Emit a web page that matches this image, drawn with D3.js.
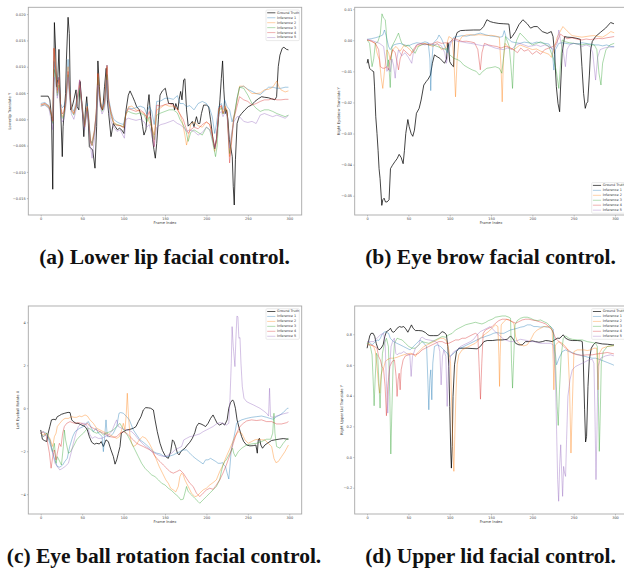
<!DOCTYPE html>
<html>
<head>
<meta charset="utf-8">
<script src="https://cdn.jsdelivr.net/npm/d3@7"></script>
<style>
  body { margin: 0; background: #fff; }
  .tiny { font-family: "DejaVu Sans", sans-serif; }
  .caption { font-family: "Liberation Serif", "DejaVu Serif", serif; font-weight: bold; }
</style>
</head>
<body>
<script>
// ---- data ----
var seriesNames = ["Ground Truth", "Inference 1", "Inference 2", "Inference 3", "Inference 4", "Inference 5"];
var xTicks = [0, 50, 100, 150, 200, 250, 300];

// (a) lower lip: [frame, value]
var gtA = [[0,0.0044],[9,0.0044],[11,0.0037],[13,0.0005],[14.5,-0.0133],[16.5,0.0184],[18,0.0132],[19,0.0062],[20.5,0.0075],[22,0.0133],[23.7,0.0037],[26,-0.0071],[27,-0.0014],[30,0.0049],[31,0.0113],[33,0.0194],[34.5,0.0163],[36,0.0018],[38,0.0024],[40,0.0037],[42.6,0.0056],[44,0.0024],[46,0.0018],[47.5,0.0072],[50,0.0024],[52,-0.0033],[54,0.0018],[55.5,0.0043],[57,0.0011],[58.7,-0.0052],[60.3,-0.0055],[62.7,-0.0058],[65.5,-0.0093],[67.5,-0.0014],[69,0.0111],[70.8,0.0062],[72.4,0.0024],[74.8,0.0018],[77,0.0062],[79,0.0097],[80.4,0.0037],[82,0.0011],[84.8,-0.0033],[87.6,-0.0008],[90,-0.0014],[92.5,-0.0020],[95,-0.0017],[97.7,-0.0020],[100.5,-0.0027],[103,0.0018],[105.7,0.0046],[107.8,0.0054],[111,0.0043],[113.4,0.0034],[115.8,0.0024],[119,0.0018],[121.4,0.0005],[123,-0.0014],[124.6,-0.0030],[127,-0.0020],[129,0.0024],[130.7,0.0047],[132.7,0.0005],[135,-0.0039],[136.7,-0.0058],[138.3,-0.0074],[140,-0.0046],[142,-0.0001],[144,0.0046],[146.8,0.0054],[150.4,0.0059],[152,0.0046],[154.4,0.0030],[160,0.0030],[161.6,0.0018],[163,0.0030],[165.6,0.0018],[167,0.0037],[168.9,0.0053],[170.5,0.0037],[172.5,0.0075],[174,0.0077],[176,0.0018],[178,-0.0013],[181,-0.0008],[183,-0.0004],[185,-0.0014],[188,0.0005],[190,-0.0008],[192,-0.0008],[194,0.0011],[196.6,0.0027],[200,0.0027],[202.7,0.0024],[205,-0.0001],[208,-0.0039],[210,-0.0056],[212,-0.0039],[214.7,0.0005],[216.3,0.0037],[218,0.0078],[219.5,0.0111],[221,0.0056],[222.8,0.0011],[224.4,0.0018],[226,-0.0001],[227.6,-0.0039],[229.2,-0.0052],[231.2,-0.0071],[232.4,-0.0128],[233.6,-0.0163],[235,-0.0077],[237,-0.0008],[239.6,0.0005],[242.5,0.0011],[246.5,0.0018],[250.5,0.0024],[254.5,0.0027],[258.5,0.0034],[262.6,0.0039],[266.6,0.0043],[269.8,0.0042],[274.6,0.0041],[278.6,0.0039],[282.7,0.0037],[284.7,0.0043],[286.7,0.0100],[288.7,0.0122],[291.5,0.0135],[293.5,0.0137],[296.7,0.0133],[299,0.0132]];
var infA1 = [[0,0.0030],[5,0.0032],[10,0.0026],[13,0.0008],[14.5,0.0002],[16,0.0110],[18,0.0085],[20,0.0060],[22,0.0080],[24,0.0030],[26,0.0022],[28,0.0025],[30,0.0035],[33,0.0114],[35,0.0060],[37,0.0024],[40,0.0015],[43,0.0035],[47,0.0060],[50,0.0028],[53,-0.0010],[56,0.0030],[58,0.0005],[60,-0.0040],[62,-0.0045],[64,-0.0030],[67,0.0010],[69,0.0075],[71,0.0040],[74,0.0020],[77,0.0035],[80,0.0103],[82,0.0040],[85,0.0015],[88,0.0000],[92,-0.0005],[96,-0.0008],[100,-0.0010],[103,0.0015],[106,0.0022],[110,0.0020],[115,0.0022],[120,0.0025],[125,0.0022],[128,0.0010],[131,0.0025],[134,0.0015],[137,-0.0010],[140,0.0034],[145,0.0035],[150,0.0040],[155,0.0040],[160,0.0038],[165,0.0045],[168,0.0030],[172,0.0030],[176,0.0024],[180,0.0026],[185,0.0018],[190,0.0030],[195,0.0034],[200,0.0030],[204,0.0020],[207,0.0005],[210,-0.0027],[212,-0.0010],[215,0.0025],[218,0.0030],[220,0.0018],[222,0.0037],[225,0.0024],[228,0.0018],[231,-0.0005],[234,0.0010],[237,0.0040],[240,0.0061],[245,0.0063],[250,0.0057],[255,0.0053],[260,0.0049],[265,0.0047],[270,0.0054],[275,0.0061],[280,0.0061],[285,0.0059],[290,0.0059],[295,0.0061],[299,0.0061]];
var infA2 = [[0,0.0028],[5,0.0030],[10,0.0025],[13,0.0010],[14.5,-0.0005],[16,0.0135],[18,0.0100],[20,0.0050],[22,0.0075],[24,0.0020],[26,0.0005],[28,0.0010],[30,0.0030],[33,0.0100],[35,0.0050],[37,0.0020],[40,0.0012],[43,0.0030],[47,0.0065],[50,0.0025],[53,-0.0014],[56,0.0025],[58,0.0000],[60,-0.0046],[62,-0.0040],[65,-0.0020],[67,0.0015],[69,0.0087],[71,0.0045],[74,0.0020],[77,0.0030],[80,0.0100],[82,0.0035],[85,0.0012],[88,-0.0005],[92,-0.0010],[96,-0.0012],[100,-0.0015],[103,0.0010],[106,0.0024],[110,0.0025],[115,0.0018],[120,0.0015],[125,0.0010],[128,0.0005],[131,-0.0005],[134,-0.0015],[137,-0.0030],[140,0.0018],[145,0.0022],[150,0.0028],[155,0.0025],[160,0.0025],[165,0.0020],[168,0.0010],[171,-0.0005],[174,-0.0030],[176,-0.0049],[178,-0.0035],[181,-0.0010],[185,-0.0005],[190,-0.0012],[195,-0.0015],[200,-0.0005],[204,-0.0010],[207,-0.0030],[210,-0.0061],[212,-0.0045],[215,0.0020],[218,0.0025],[220,0.0010],[223,0.0025],[225,0.0015],[228,-0.0071],[230,-0.0040],[233,0.0005],[237,0.0035],[240,0.0063],[245,0.0063],[250,0.0056],[255,0.0049],[260,0.0049],[265,0.0050],[270,0.0056],[275,0.0057],[280,0.0061],[285,0.0073],[288,0.0060],[290,0.0056],[295,0.0052],[299,0.0054]];
var infA3 = [[0,0.0025],[5,0.0028],[10,0.0022],[13,0.0005],[14.5,-0.0008],[16,0.0095],[18,0.0085],[20,0.0045],[22,0.0065],[24,0.0015],[26,0.0002],[28,0.0005],[30,0.0025],[33,0.0085],[35,0.0045],[37,0.0015],[40,0.0008],[43,0.0025],[47,0.0055],[50,0.0020],[53,-0.0014],[56,0.0020],[58,-0.0005],[60,-0.0040],[62,-0.0050],[65,-0.0025],[67,0.0010],[69,0.0080],[71,0.0040],[74,0.0015],[77,0.0025],[80,0.0085],[82,0.0030],[85,0.0005],[88,-0.0008],[92,-0.0010],[96,-0.0012],[100,-0.0014],[103,0.0012],[106,0.0015],[110,0.0012],[115,0.0010],[120,0.0012],[125,0.0008],[128,-0.0005],[131,0.0005],[134,-0.0015],[137,-0.0039],[140,0.0008],[145,0.0012],[150,0.0015],[155,0.0018],[160,0.0018],[165,0.0012],[168,0.0000],[171,-0.0008],[175,-0.0020],[178,-0.0042],[181,-0.0025],[185,-0.0020],[190,-0.0025],[195,-0.0030],[200,-0.0015],[204,-0.0020],[207,-0.0040],[211,-0.0071],[213,-0.0050],[215,0.0015],[218,0.0022],[220,0.0010],[223,0.0020],[225,0.0010],[228,-0.0065],[230,-0.0040],[233,0.0000],[237,0.0040],[240,0.0061],[245,0.0059],[250,0.0046],[255,0.0030],[260,0.0021],[265,0.0015],[270,0.0018],[275,0.0018],[280,0.0015],[285,0.0011],[290,0.0008],[295,0.0005],[299,0.0008]];
var infA4 = [[0,0.0027],[5,0.0030],[10,0.0024],[13,0.0008],[14.5,-0.0003],[16,0.0135],[18,0.0095],[20,0.0055],[22,0.0080],[24,0.0025],[26,0.0010],[28,0.0015],[30,0.0030],[33,0.0091],[35,0.0050],[37,0.0018],[40,0.0010],[43,0.0028],[47,0.0075],[50,0.0022],[53,-0.0014],[56,0.0022],[58,-0.0002],[60,-0.0042],[62,-0.0050],[65,-0.0022],[67,0.0012],[69,0.0087],[71,0.0042],[74,0.0018],[77,0.0030],[80,0.0103],[82,0.0035],[85,0.0010],[88,-0.0008],[92,-0.0012],[96,-0.0012],[100,-0.0016],[103,0.0012],[106,0.0020],[110,0.0018],[115,0.0015],[120,0.0018],[125,0.0012],[128,0.0002],[131,0.0015],[134,-0.0010],[137,-0.0052],[140,0.0027],[145,0.0025],[150,0.0028],[155,0.0030],[160,0.0027],[165,0.0018],[168,0.0010],[172,0.0000],[175,-0.0015],[178,-0.0027],[181,-0.0020],[185,-0.0015],[190,-0.0018],[195,-0.0010],[200,-0.0005],[204,-0.0010],[207,-0.0030],[210,-0.0052],[212,-0.0040],[215,0.0020],[218,0.0027],[220,0.0012],[223,0.0022],[225,0.0012],[228,-0.0083],[230,-0.0050],[233,0.0000],[237,0.0025],[240,0.0043],[245,0.0037],[250,0.0034],[255,0.0027],[260,0.0030],[265,0.0034],[270,0.0037],[275,0.0037],[280,0.0039],[285,0.0037],[290,0.0037],[295,0.0038],[299,0.0038]];
var infA5 = [[0,0.0025],[5,0.0027],[10,0.0020],[13,-0.0005],[14.5,-0.0020],[16,0.0080],[18,0.0070],[20,0.0040],[22,0.0060],[24,0.0010],[26,-0.0005],[28,0.0000],[30,0.0020],[33,0.0080],[35,0.0040],[37,0.0010],[40,0.0000],[43,0.0020],[47,0.0075],[50,0.0015],[53,-0.0020],[56,0.0015],[58,-0.0010],[60,-0.0050],[62,-0.0074],[65,-0.0035],[67,0.0005],[69,0.0065],[71,0.0030],[74,0.0010],[77,0.0020],[80,0.0075],[82,0.0020],[85,-0.0005],[88,-0.0015],[92,-0.0023],[96,-0.0020],[99,-0.0030],[101,-0.0036],[103,0.0000],[106,0.0002],[110,0.0000],[115,-0.0002],[120,0.0000],[125,-0.0005],[128,-0.0015],[131,-0.0010],[134,-0.0030],[137,-0.0052],[140,-0.0015],[145,-0.0010],[150,-0.0008],[155,-0.0005],[160,-0.0002],[165,-0.0008],[168,-0.0010],[172,-0.0015],[176,-0.0023],[180,-0.0020],[185,-0.0023],[190,-0.0030],[195,-0.0025],[200,-0.0015],[204,-0.0020],[207,-0.0035],[210,-0.0055],[212,-0.0040],[215,0.0010],[218,0.0015],[220,0.0005],[223,0.0015],[225,0.0005],[228,-0.0055],[230,-0.0030],[233,-0.0005],[237,0.0005],[240,0.0005],[245,-0.0004],[250,-0.0006],[255,-0.0004],[260,-0.0008],[265,0.0008],[270,0.0011],[275,0.0008],[280,0.0005],[285,0.0008],[290,0.0005],[295,0.0002],[299,0.0007]];

// (b) eye brow
var gtB = [[0,-0.0074],[1,-0.0061],[3,-0.0090],[6,-0.0098],[8,-0.0101],[9,-0.0150],[10.5,-0.0246],[12,-0.0300],[13.3,-0.0354],[14.5,-0.0413],[15.7,-0.0445],[17.8,-0.0531],[19,-0.0513],[20.6,-0.0508],[22.2,-0.0520],[24.2,-0.0520],[26.6,-0.0513],[28.3,-0.0413],[30.7,-0.0402],[33.5,-0.0391],[36.3,-0.0381],[38.8,-0.0367],[41.2,-0.0377],[43.6,-0.0397],[45.2,-0.0354],[46.8,-0.0300],[49.3,-0.0255],[50.9,-0.0278],[53.3,-0.0300],[55.3,-0.0309],[57.3,-0.0289],[59.7,-0.0235],[63,-0.0219],[65.4,-0.0192],[68.6,-0.0144],[71.5,-0.0133],[73.9,-0.0125],[76.7,-0.0112],[79,-0.0074],[81.5,-0.0047],[84.8,-0.0053],[88,-0.0058],[90.8,-0.0066],[93.7,-0.0074],[96,-0.0061],[97.7,-0.0008],[98.5,-0.0015],[100,-0.0069],[102.5,-0.0080],[104.6,-0.0085],[106,0.0001],[109,0.0025],[113,0.0031],[119,0.0032],[129,0.0033],[137,0.0033],[141,0.0044],[145,0.0066],[149,0.0060],[153,0.0057],[159.5,0.0054],[165.5,0.0053],[171.6,0.0052],[173.6,0.0006],[175.6,0.0012],[179.6,0.0028],[183.7,0.0050],[188.5,0.0066],[193.8,0.0053],[197.8,0.0039],[201.9,0.0044],[205.9,0.0044],[212,0.0028],[218,0.0022],[222.9,0.0028],[225,0.0012],[227,-0.0047],[229,-0.0149],[231,-0.0203],[233,-0.0230],[234,-0.0160],[236,-0.0042],[239,0.0012],[242,0.0010],[248,0.0009],[254,0.0006],[258,0.0003],[260,-0.0085],[262,-0.0171],[264,-0.0219],[265.6,-0.0203],[267,-0.0198],[269,-0.0112],[270.5,-0.0031],[272.5,-0.0004],[276.5,0.0012],[282.6,0.0026],[288.6,0.0039],[294.7,0.0057],[298.7,0.0053]];
var infB1 = [[0,0.0003],[5,0.0005],[10,0.0008],[15,0.0012],[19,0.0017],[21,0.0033],[23,0.0015],[26,-0.0020],[28,-0.0030],[32,-0.0015],[36,-0.0012],[40,-0.0010],[45,-0.0015],[50,-0.0018],[55,-0.0012],[60,-0.0008],[65,-0.0010],[70,-0.0005],[74,-0.0008],[76,-0.0060],[77,-0.0162],[78,-0.0080],[80,-0.0010],[85,0.0005],[87,0.0017],[90,0.0005],[94,-0.0020],[97,-0.0040],[100,-0.0010],[105,0.0010],[110,0.0012],[115,0.0015],[120,0.0013],[125,0.0016],[130,0.0018],[137,0.0023],[143,0.0018],[149,0.0014],[155,0.0012],[161,0.0010],[164,0.0012],[166,0.0031],[168,0.0012],[170,0.0006],[175,-0.0005],[180,-0.0008],[185,-0.0010],[190,-0.0006],[195,-0.0008],[200,-0.0010],[205,-0.0006],[210,-0.0008],[215,-0.0010],[220,-0.0012],[224,-0.0030],[226,-0.0096],[228,-0.0030],[232,-0.0010],[236,-0.0008],[240,-0.0010],[245,-0.0012],[250,-0.0010],[255,-0.0012],[260,-0.0008],[265,-0.0010],[270,-0.0012],[275,-0.0015],[280,-0.0015],[285,-0.0018],[290,-0.0015],[295,-0.0020],[299,-0.0020]];
var infB2 = [[0,0.0001],[5,-0.0002],[10,-0.0010],[12,-0.0040],[15,-0.0065],[17,-0.0120],[19,-0.0155],[21,-0.0100],[24,-0.0031],[26,-0.0040],[28,-0.0063],[31,-0.0030],[35,-0.0020],[40,-0.0035],[45,-0.0015],[50,-0.0025],[55,-0.0040],[60,-0.0020],[65,-0.0015],[70,-0.0010],[75,-0.0015],[80,-0.0020],[85,-0.0010],[90,-0.0030],[95,-0.0025],[99,0.0012],[103,0.0005],[105,-0.0060],[107,-0.0182],[109,-0.0060],[111,-0.0004],[115,0.0012],[120,0.0017],[125,0.0018],[130,0.0016],[135,0.0018],[140,0.0017],[145,0.0015],[150,0.0016],[155,0.0014],[160,0.0010],[162,-0.0080],[163.5,-0.0198],[165,-0.0060],[167,-0.0010],[172,-0.0025],[178,-0.0030],[185,-0.0015],[190,-0.0020],[195,-0.0025],[200,-0.0030],[205,-0.0028],[210,-0.0035],[215,-0.0040],[220,-0.0045],[223,-0.0055],[226,-0.0030],[230,0.0010],[234,0.0030],[237,0.0044],[242,0.0030],[248,0.0015],[255,0.0012],[260,0.0010],[265,0.0012],[270,0.0014],[275,0.0015],[280,0.0012],[285,0.0010],[290,0.0018],[295,0.0028],[299,0.0024]];
var infB3 = [[0,0.0001],[3,-0.0010],[6,-0.0085],[8,-0.0060],[10,-0.0010],[13,-0.0005],[16,0.0020],[18,0.0085],[20,0.0071],[22,0.0066],[23.4,0.0023],[25,-0.0085],[26,-0.0063],[28,-0.0152],[30,-0.0020],[34,0.0000],[38,0.0023],[40,0.0005],[42,-0.0010],[46,-0.0020],[50,-0.0015],[55,-0.0030],[58,-0.0042],[62,-0.0020],[66,-0.0015],[70,-0.0012],[75,-0.0015],[80,-0.0015],[85,-0.0020],[90,-0.0025],[95,-0.0030],[97,-0.0026],[100,-0.0047],[105,-0.0058],[110,-0.0063],[113,-0.0068],[117,-0.0080],[122,-0.0088],[127,-0.0095],[132,-0.0100],[136,-0.0112],[140,-0.0100],[145,-0.0090],[150,-0.0088],[155,-0.0085],[160,-0.0090],[163,-0.0106],[165,-0.0060],[167.5,0.0012],[170,-0.0005],[172,-0.0020],[174,-0.0080],[176,-0.0155],[178,-0.0030],[181,0.0000],[185,0.0023],[190,0.0010],[195,-0.0005],[200,-0.0015],[205,-0.0010],[210,-0.0005],[215,-0.0012],[220,-0.0020],[226,-0.0063],[229,-0.0100],[232,-0.0155],[234,-0.0080],[236,0.0001],[240,-0.0005],[245,-0.0008],[250,-0.0010],[255,-0.0012],[260,-0.0015],[265,-0.0012],[270,-0.0015],[275,-0.0015],[278,-0.0030],[280.6,-0.0106],[283,-0.0144],[285,-0.0074],[289,-0.0031],[294,-0.0015],[299,-0.0010]];
var infB4 = [[0,0.0001],[5,-0.0003],[10,-0.0010],[14,-0.0030],[16,-0.0085],[19,-0.0090],[21,-0.0090],[24,-0.0085],[26,-0.0096],[28,-0.0058],[31,-0.0030],[34,-0.0040],[37,-0.0080],[38,-0.0095],[40,-0.0060],[44,-0.0030],[48,-0.0040],[52,-0.0050],[56,-0.0030],[60,-0.0015],[65,-0.0010],[70,-0.0012],[75,-0.0015],[80,-0.0010],[85,-0.0005],[90,-0.0010],[95,-0.0008],[98,-0.0010],[102,-0.0002],[105,0.0006],[110,0.0001],[115,-0.0004],[120,-0.0003],[125,-0.0005],[130,-0.0008],[134,-0.0030],[137,-0.0095],[139,-0.0040],[142,-0.0010],[147,-0.0015],[152,-0.0018],[157,-0.0020],[162,-0.0025],[167,-0.0020],[172,-0.0022],[177,-0.0030],[182,-0.0040],[186,-0.0025],[190,-0.0035],[195,-0.0030],[200,-0.0045],[205,-0.0035],[210,-0.0045],[215,-0.0030],[220,-0.0025],[225,-0.0020],[229,-0.0010],[234,0.0020],[238,0.0012],[242,0.0005],[248,0.0008],[255,0.0003],[260,0.0001],[265,0.0004],[270,0.0002],[275,0.0004],[280,0.0006],[285,0.0005],[290,0.0008],[295,0.0010],[299,0.0012]];
var infB5 = [[0,0.0003],[5,0.0000],[10,-0.0005],[15,-0.0010],[20,-0.0020],[22,-0.0060],[24,-0.0100],[26,-0.0090],[28,-0.0101],[30,-0.0060],[32,-0.0080],[34,-0.0122],[36,-0.0060],[38,-0.0031],[42,-0.0050],[46,-0.0040],[50,-0.0055],[54,-0.0074],[56,-0.0040],[60,-0.0015],[65,-0.0012],[70,-0.0015],[75,-0.0010],[80,-0.0015],[85,-0.0012],[90,-0.0018],[94,-0.0040],[96,-0.0074],[99,-0.0031],[102,-0.0005],[106,0.0001],[110,-0.0004],[115,-0.0005],[120,-0.0008],[125,-0.0010],[130,-0.0012],[135,-0.0015],[140,-0.0018],[145,-0.0015],[150,-0.0020],[155,-0.0025],[160,-0.0028],[165,-0.0030],[170,-0.0025],[175,-0.0030],[180,-0.0015],[185,-0.0010],[190,-0.0015],[195,-0.0020],[200,-0.0018],[205,-0.0015],[210,-0.0020],[215,-0.0015],[220,-0.0020],[226,-0.0030],[230,-0.0010],[232,0.0033],[234,0.0000],[237,-0.0030],[240,-0.0085],[242,-0.0030],[245,-0.0015],[250,-0.0010],[255,-0.0012],[260,-0.0020],[265,-0.0015],[270,-0.0020],[273,-0.0040],[276.5,-0.0128],[279,-0.0055],[282,-0.0030],[287,-0.0025],[292,-0.0022],[299,-0.0022]];

// (c) eye ball rotation
var gtC = [[0,-1.01],[2,-1.44],[4.4,-1.50],[7.2,-1.55],[9,-1.16],[11,-0.85],[13,-0.54],[16,-0.51],[18,-0.54],[20,-0.39],[22.5,-0.34],[25,-0.28],[29,-0.23],[33,-0.19],[35.4,-0.20],[37.4,-0.54],[39.4,-0.62],[42.6,-0.70],[45,-0.70],[49.5,-0.78],[53.5,-0.85],[56.3,-1.01],[58.7,-1.32],[61.5,-1.58],[64.7,-1.67],[67.5,-1.63],[70.8,-1.66],[73,-1.55],[75.6,-1.78],[78.8,-1.47],[81.6,-1.55],[84.8,-1.94],[87.7,-2.25],[89.7,-2.60],[91.7,-2.40],[93.7,-2.09],[95.7,-1.78],[97.3,-1.16],[99.7,-1.09],[103.7,-1.01],[107.8,-0.98],[111.8,-0.93],[115,-0.85],[117.8,-0.62],[121,-0.39],[123.8,-0.08],[126.7,0.03],[130,0.02],[132.7,0.00],[136,-0.08],[138,-0.54],[140.7,-1.09],[144,-1.63],[147,-1.97],[150.8,-2.25],[154,-2.33],[156.8,-2.02],[159,-1.47],[160.8,-1.55],[162.8,-1.78],[165,-2.09],[167,-2.17],[169,-2.02],[171.3,-1.94],[174,-1.86],[177,-1.71],[180,-1.58],[183,-1.40],[186,-1.13],[188,-0.85],[190.6,-0.70],[193.4,-0.73],[196,-0.78],[199,-0.85],[202,-0.70],[205,-0.47],[208,-0.31],[210,-0.47],[213,-0.70],[216,-0.78],[219.5,-0.70],[222,-0.78],[225,-0.54],[227,0.00],[229,0.26],[231.6,0.39],[233,0.31],[235,0.00],[237,-0.54],[239.6,-0.93],[242.5,-1.32],[245,-1.55],[248.5,-1.71],[252.5,-1.75],[256.5,-1.74],[259.7,-1.71],[261.4,-2.09],[262.6,-1.47],[264,-1.40],[265.7,-1.71],[267.7,-1.86],[270.6,-1.71],[274.6,-1.60],[278.7,-1.50],[282.7,-1.47],[288.7,-1.43],[292.7,-1.41],[299,-1.44]];
var infC1 = [[0,-1.16],[3,-1.09],[7,-1.16],[11,-1.63],[14.5,-2.09],[17,-2.40],[20,-2.71],[23,-2.74],[26.5,-2.64],[29,-2.48],[32,-2.33],[35,-1.78],[38.6,-1.32],[41.4,-1.09],[44,-1.01],[47,-0.93],[51.5,-0.85],[54.7,-0.70],[57.5,-0.62],[60.3,-0.85],[63.5,-1.09],[66.7,-0.93],[69.5,-1.16],[72.4,-1.24],[74,-1.32],[75.6,-2.02],[77.2,-1.32],[78.8,-0.54],[80.4,-1.32],[83.6,-1.32],[87.6,-1.16],[91.7,-0.85],[94.5,-0.23],[96.5,-0.20],[99.7,-0.23],[103.7,-0.39],[107,-0.54],[111.8,-1.01],[115.8,-1.24],[119.8,-1.47],[123.8,-1.58],[127.8,-1.71],[131.9,-1.86],[136,-2.02],[140,-2.09],[144,-2.12],[148,-2.22],[152,-2.25],[156,-2.22],[160,-2.17],[164,-2.09],[168,-2.02],[172,-1.94],[176,-1.94],[180,-2.09],[184,-2.25],[188,-2.37],[192,-2.48],[196,-2.59],[199,-2.40],[202,-2.40],[205,-2.33],[208,-2.40],[211.5,-2.48],[214,-2.56],[217,-2.56],[219.5,-2.53],[221,-2.64],[223,-2.71],[225,-3.02],[227,-3.29],[228.4,-2.71],[230,-1.94],[231.6,-1.63],[233,-1.40],[235,-1.01],[236.4,-0.70],[238.4,-0.62],[242.5,-0.54],[248.5,-0.47],[254.5,-0.42],[260.5,-0.39],[266.6,-0.36],[272.6,-0.42],[276.6,-0.47],[280.6,-0.51],[284.7,-0.39],[288.7,-0.31],[292.7,-0.20],[297.6,0.00],[299,0.00]];
var infC2 = [[0,-1.16],[3,-1.24],[7,-1.16],[11,-1.40],[14.5,-1.78],[16.5,-1.32],[18.5,-1.16],[20,-0.85],[23,-0.70],[26.5,-0.54],[29.4,-0.47],[33.4,-0.47],[37.4,-0.39],[40.2,-0.42],[43.4,-0.42],[46.6,-0.36],[49.5,-0.39],[53.5,-0.31],[56.3,-0.36],[59.5,-0.54],[63.5,-0.70],[67.5,-0.93],[71.6,-1.01],[75.6,-1.09],[79.6,-1.16],[83.6,-1.24],[87.6,-1.32],[91.7,-1.40],[94.9,-1.32],[97.7,-1.01],[99.7,-0.70],[101.7,-1.01],[103.3,-0.23],[104.5,0.70],[105.7,-0.23],[107.8,-1.32],[109.8,-1.63],[111.8,-1.78],[115,-1.71],[119,-1.47],[123,-1.32],[127,-1.40],[131,-1.63],[135,-1.94],[139,-2.33],[143,-2.71],[147,-3.02],[151,-3.33],[154,-3.49],[156.8,-3.72],[160,-3.80],[163,-3.89],[166,-3.64],[168,-3.18],[170,-3.02],[172,-3.10],[174,-3.33],[178,-3.64],[182,-3.95],[186,-4.11],[189,-4.08],[192,-3.95],[196,-3.80],[200,-3.72],[204,-3.57],[208,-3.46],[212,-3.33],[216,-2.95],[220,-2.64],[224,-2.25],[227.6,-1.94],[231,-1.63],[234.4,-1.32],[238.4,-1.09],[242.5,-1.16],[246.5,-1.47],[250.5,-1.63],[254.5,-1.55],[258.5,-1.47],[262.6,-1.44],[266.6,-1.47],[270.6,-1.47],[274.6,-1.63],[278.7,-1.78],[281.5,-2.33],[283.9,-2.53],[286.7,-2.48],[290.7,-2.25],[294.7,-2.02],[299,-1.71]];
var infC3 = [[0,-1.16],[3,-1.32],[7,-1.16],[11,-1.47],[14.5,-2.02],[16.5,-1.63],[18.5,-2.56],[20,-2.25],[23,-2.48],[25,-2.64],[27.3,-1.78],[28.5,-1.01],[30,-1.47],[33.4,-2.09],[36,-2.02],[39.4,-1.78],[43.4,-1.47],[47.5,-1.29],[51.5,-1.16],[54.7,-1.01],[57.5,-0.93],[60.3,-0.98],[63.5,-1.09],[67.5,-1.16],[71.6,-1.09],[75.6,-1.24],[78.8,-1.16],[83.6,-1.09],[87.6,-1.01],[91.7,-0.85],[95.7,-0.70],[97.7,-0.85],[101.7,-1.09],[105.7,-1.32],[109.8,-1.63],[113.8,-1.94],[117.8,-2.25],[121.8,-2.56],[125.8,-2.79],[129.9,-2.95],[133.9,-3.10],[137.9,-3.18],[142,-3.33],[146,-3.49],[150,-3.57],[154,-3.72],[158,-3.83],[162,-3.98],[166,-4.11],[169,-4.26],[172,-4.23],[174,-3.95],[176,-3.64],[178,-3.88],[182,-4.03],[186,-4.19],[190,-4.34],[192,-4.42],[196,-4.26],[200,-4.11],[204,-3.95],[208,-3.80],[212,-3.64],[216,-3.33],[218,-2.95],[220,-2.64],[222,-2.48],[224,-2.40],[228.4,-2.09],[231.6,-1.86],[233,-2.09],[235,-2.25],[238.4,-2.02],[242.5,-1.86],[248.5,-1.71],[254.5,-1.66],[260.5,-1.63],[266.6,-1.55],[272.6,-1.44],[277.6,-1.44],[280,-1.16],[281.5,-0.23],[282.7,-1.16],[284.7,-1.78],[288.7,-1.86],[292.7,-1.63],[296.8,-1.44],[299,-1.40]];
var infC4 = [[0,-1.16],[3,-1.09],[7,-1.32],[10.5,-2.09],[12.5,-2.79],[14.5,-2.25],[16.5,-1.94],[18.5,-2.40],[20,-2.09],[22.5,-1.63],[24.5,-1.78],[26.5,-1.16],[28.5,-0.85],[31.4,-0.70],[35.4,-0.62],[38.6,-0.67],[41.4,-0.70],[45.4,-0.67],[49.5,-0.70],[53.5,-0.78],[56.3,-0.70],[59.5,-0.85],[63.5,-0.93],[67.5,-1.01],[71.6,-1.09],[75.6,-1.16],[79.6,-1.24],[83.6,-1.32],[87.6,-1.35],[91.7,-1.32],[95.7,-1.16],[99.7,-1.09],[103.7,-1.16],[107.8,-1.32],[111.8,-1.47],[115.8,-1.63],[119.8,-1.71],[123.8,-1.78],[127.8,-1.86],[131.9,-1.94],[135,-2.02],[136.7,-2.17],[140,-2.33],[144,-2.48],[148,-2.64],[152,-2.79],[156,-2.95],[160,-3.02],[164,-2.95],[168,-2.87],[172,-3.02],[176,-3.26],[180,-3.49],[184,-3.64],[188,-3.95],[192,-4.11],[196,-3.95],[200,-3.80],[204,-3.72],[208,-3.77],[212,-3.57],[216,-3.33],[220,-3.02],[224,-2.64],[228.4,-2.17],[232.4,-1.63],[236.4,-1.16],[240.5,-0.85],[244.5,-0.70],[248.5,-0.59],[254.5,-0.54],[260.5,-0.57],[266.6,-0.54],[272.6,-0.62],[278.7,-0.62],[284.7,-0.73],[290.7,-0.73],[296.8,-0.67],[299,-0.62]];
var infC5 = [[0,-1.16],[3,-1.32],[7,-1.24],[11,-1.47],[14.5,-2.09],[17.3,-2.56],[20,-2.71],[23,-2.87],[26.5,-2.79],[29.4,-2.71],[33.4,-2.56],[36.6,-2.09],[39.4,-1.63],[42.6,-1.16],[45.4,-0.85],[49.5,-0.70],[53.5,-0.70],[56.3,-0.85],[59.5,-1.24],[62.3,-1.40],[65.5,-1.32],[69.5,-1.40],[73.6,-1.40],[77.6,-1.32],[81.6,-1.24],[85.6,-1.09],[89.7,-0.70],[91.7,-0.54],[93.7,-0.85],[97.7,-0.93],[101.7,-1.01],[105.7,-1.01],[109.8,-1.09],[113.8,-1.24],[117.8,-1.44],[121.8,-1.60],[125.8,-1.75],[129.9,-1.86],[133.9,-2.02],[137.9,-2.09],[142,-2.17],[146,-2.22],[150,-2.25],[154,-2.17],[158,-2.09],[162,-1.94],[166,-1.86],[170,-1.78],[172.7,-1.47],[176,-1.40],[180,-1.32],[184,-1.29],[188,-1.24],[192,-1.19],[196,-1.09],[200,-1.01],[204,-0.93],[208,-0.85],[212,-0.73],[216,-0.67],[220,-0.70],[224,-0.78],[227,-0.70],[228.4,0.39],[230,2.09],[231,3.80],[232.4,2.87],[234.4,1.94],[235.6,3.26],[236.8,4.29],[238,4.26],[239.2,3.26],[240.5,3.29],[241.7,2.09],[243.3,1.01],[245.3,0.47],[248.5,0.31],[252.5,0.23],[256.5,0.16],[260.5,0.08],[264.6,0.00],[268.6,-0.11],[272.6,-0.23],[275,-0.36],[276.2,0.93],[277.4,-0.39],[280.6,-0.42],[284.7,-0.36],[288.7,-0.31],[292.7,-0.26],[299,-0.20]];

// (d) upper lid
var gtD = [[0,0.709],[1.2,0.741],[3.2,0.789],[4.8,0.806],[7.3,0.806],[9.3,0.785],[11,0.741],[13,0.709],[14.5,0.698],[17,0.709],[19.4,0.731],[21.4,0.785],[23.4,0.817],[25.8,0.824],[28.3,0.839],[30.3,0.817],[32.3,0.813],[34.3,0.824],[36.3,0.839],[39.2,0.850],[41.6,0.846],[44.4,0.850],[46.8,0.835],[49.3,0.813],[51.7,0.839],[53.7,0.861],[55.7,0.839],[58.5,0.824],[62.6,0.824],[66.6,0.822],[70.6,0.811],[73.5,0.796],[75.9,0.791],[80.7,0.791],[84.8,0.791],[86.8,0.796],[90.8,0.817],[93.7,0.811],[96,0.796],[97.7,0.720],[98.9,0.590],[100,0.330],[101.3,0.026],[102,-0.072],[103,0.069],[104,0.395],[105.8,0.601],[108.2,0.687],[111,0.709],[115,0.709],[121,0.709],[127,0.707],[133.2,0.705],[137,0.720],[141.3,0.752],[145.3,0.759],[151.4,0.759],[157.4,0.763],[163.5,0.763],[169.5,0.767],[173.6,0.789],[176,0.774],[179.7,0.741],[183.7,0.731],[187.7,0.731],[191.8,0.752],[195.8,0.752],[199.8,0.757],[203.9,0.752],[208,0.748],[212,0.752],[216,0.759],[220,0.757],[224,0.752],[226.9,0.763],[230.1,0.774],[233.4,0.774],[235.8,0.789],[237.4,0.796],[240.2,0.774],[244.2,0.763],[248.3,0.759],[254.3,0.759],[258.4,0.757],[260.4,0.752],[261.6,0.633],[263.2,0.308],[264.4,0.098],[265.6,0.134],[267.3,0.460],[268.9,0.633],[271.3,0.709],[273.7,0.731],[276.5,0.746],[280.6,0.741],[284.6,0.737],[290.7,0.735],[296.7,0.731],[298.7,0.731]];
var infD1 = [[0,0.741],[2,0.752],[4,0.741],[6,0.731],[8,0.741],[10,0.752],[12,0.763],[14,0.759],[16,0.774],[18,0.796],[20,0.811],[22,0.817],[24,0.811],[26,0.806],[28,0.774],[32,0.752],[36,0.741],[40,0.731],[44,0.720],[48,0.709],[52,0.698],[56,0.720],[60,0.741],[64,0.763],[68,0.746],[72,0.720],[73.5,0.503],[74.7,0.308],[75.9,0.503],[77.1,0.568],[78.3,0.373],[79.5,0.611],[81.5,0.720],[84.8,0.731],[88.8,0.720],[92.9,0.698],[96.9,0.676],[100,0.655],[105,0.676],[109,0.698],[113,0.709],[117,0.720],[121,0.731],[125,0.741],[129,0.752],[133,0.763],[137,0.774],[141,0.781],[145,0.789],[149,0.796],[153,0.806],[157,0.811],[161.5,0.806],[165.5,0.806],[169.5,0.817],[173.6,0.828],[177.6,0.833],[181.7,0.839],[185.7,0.846],[189.7,0.850],[193.8,0.861],[197.8,0.861],[201.9,0.850],[205.9,0.850],[210,0.846],[214,0.850],[218,0.846],[222,0.850],[225.3,0.833],[226.9,0.720],[229.3,0.601],[232.2,0.644],[236.2,0.687],[240.2,0.698],[244.2,0.687],[248.3,0.681],[252.3,0.672],[256.4,0.666],[260.4,0.659],[264.4,0.655],[268.5,0.648],[272.5,0.644],[276.5,0.644],[280.6,0.637],[284.6,0.629],[290.7,0.616],[296.7,0.603],[298.7,0.598]];
var infD2 = [[0,0.752],[4,0.731],[8,0.720],[10,0.687],[12,0.590],[13.7,0.481],[15.3,0.416],[17,0.536],[18.6,0.568],[20,0.579],[22,0.622],[24,0.633],[28,0.644],[32.3,0.644],[36.3,0.650],[40.4,0.659],[44.4,0.666],[48.4,0.672],[52.5,0.676],[56.5,0.666],[58.5,0.655],[60.6,0.676],[64.6,0.698],[68.6,0.720],[72.7,0.731],[76.7,0.741],[80.7,0.752],[84.8,0.763],[88.8,0.774],[92,0.774],[95.3,0.763],[96.9,0.741],[98.9,0.698],[101,0.611],[102.6,0.286],[104.2,0.004],[105,-0.093],[106,0.113],[107.4,0.395],[109,0.601],[111,0.666],[115,0.698],[119,0.709],[123,0.720],[127,0.731],[131,0.741],[135,0.763],[139,0.785],[143,0.802],[147,0.817],[151,0.839],[155.4,0.861],[158.3,0.850],[159.5,0.655],[160.3,0.460],[161,0.655],[162.3,0.861],[165.5,0.882],[168.8,0.898],[172,0.893],[175.2,0.882],[177.6,0.872],[179.7,0.785],[181.7,0.752],[185.7,0.731],[189.7,0.724],[193.8,0.731],[197.8,0.763],[201.9,0.806],[205.9,0.828],[210,0.839],[214,0.850],[218,0.850],[222,0.839],[224,0.828],[225.3,0.611],[226,0.438],[226.9,0.633],[228,0.731],[232.2,0.752],[236.2,0.741],[240.2,0.720],[243,0.698],[245,0.460],[246.7,0.026],[248.3,0.330],[250.3,0.687],[254.3,0.698],[258.4,0.698],[262.4,0.698],[266.4,0.694],[270.5,0.698],[274.5,0.709],[277.8,0.709],[279.4,0.438],[281,0.676],[284.6,0.709],[290.7,0.720],[296.7,0.724],[298.7,0.726]];
var infD3 = [[0,0.741],[2,0.737],[4,0.720],[6,0.666],[7.3,0.503],[8.5,0.334],[9.7,0.503],[11.3,0.676],[12.9,0.655],[14.5,0.460],[15.7,0.319],[17,0.503],[18.6,0.676],[21,0.741],[23.4,0.774],[25.8,0.720],[27.5,0.395],[28.7,0.020],[29.9,0.286],[31.5,0.611],[33.1,0.741],[36.3,0.774],[39.6,0.767],[42.4,0.763],[46.4,0.741],[50.5,0.720],[54.5,0.709],[58.5,0.709],[62.6,0.731],[66.6,0.752],[70.6,0.746],[74.7,0.741],[78.7,0.752],[82.7,0.763],[86.8,0.774],[90.8,0.785],[94.9,0.781],[98.9,0.796],[103,0.806],[107,0.828],[111,0.839],[115,0.850],[119,0.861],[123,0.867],[127,0.872],[131,0.878],[135,0.872],[139,0.867],[143,0.876],[147,0.889],[151.4,0.898],[155.4,0.911],[159.5,0.915],[163.5,0.919],[167.5,0.919],[171.6,0.911],[173.6,0.904],[174.8,0.611],[176,0.449],[177.3,0.629],[179,0.861],[181.7,0.889],[185.7,0.904],[189.7,0.911],[193.8,0.911],[197.8,0.904],[201.9,0.893],[205.9,0.889],[210,0.893],[214,0.882],[218,0.872],[222,0.850],[225.3,0.806],[228,0.611],[230,0.330],[231.3,0.206],[232.8,0.438],[234.8,0.655],[237.4,0.774],[240.2,0.789],[244.2,0.774],[248.3,0.767],[254.3,0.763],[260.4,0.763],[266.4,0.752],[272.5,0.746],[276.5,0.741],[278.6,0.720],[279.8,0.395],[281,0.037],[282.2,0.286],[283.4,0.611],[285.8,0.687],[290.7,0.720],[296.7,0.726],[298.7,0.726]];
var infD4 = [[0,0.731],[4,0.731],[8,0.724],[12,0.709],[14,0.655],[16,0.633],[18,0.590],[20,0.568],[21.8,0.460],[23.4,0.269],[25,0.460],[27.5,0.590],[30.3,0.622],[33.1,0.633],[35.1,0.525],[36.3,0.395],[37.5,0.503],[38.8,0.546],[40,0.438],[41.2,0.568],[43.6,0.633],[46.4,0.659],[50.5,0.666],[54.5,0.672],[58.5,0.666],[62.6,0.676],[66.6,0.698],[70.6,0.709],[74.7,0.720],[78.7,0.731],[82.7,0.741],[86.8,0.752],[90.8,0.752],[94.9,0.741],[98.9,0.741],[103,0.752],[107,0.763],[111,0.763],[115,0.774],[119,0.774],[123,0.785],[127,0.796],[131,0.806],[134,0.796],[135.6,0.590],[137.2,0.377],[138.8,0.611],[140.5,0.806],[143.3,0.828],[147.4,0.839],[151.4,0.850],[155.4,0.872],[159.5,0.889],[163.5,0.898],[167.5,0.898],[171.6,0.893],[175.6,0.882],[179.7,0.872],[183.7,0.882],[187.7,0.893],[191.8,0.898],[195.8,0.898],[199.8,0.893],[203.9,0.889],[208,0.882],[212,0.876],[216,0.867],[220,0.850],[224,0.828],[228,0.774],[232.2,0.752],[236.2,0.731],[240.2,0.709],[244.2,0.694],[248.3,0.676],[254.3,0.666],[260.4,0.663],[266.4,0.666],[272.5,0.666],[278.6,0.672],[284.6,0.676],[290.7,0.681],[298.7,0.672]];
var infD5 = [[0,0.752],[4,0.752],[8,0.752],[12,0.774],[16,0.796],[20,0.806],[22,0.720],[23.4,0.481],[25,0.286],[26.6,0.525],[29,0.720],[31.5,0.763],[33,0.774],[34.7,0.676],[36.3,0.666],[38.8,0.676],[41.2,0.676],[44.4,0.687],[48.4,0.672],[51.7,0.666],[53.3,0.525],[54.9,0.655],[58.5,0.709],[62.6,0.731],[64.6,0.774],[66.6,0.781],[70.6,0.767],[74.7,0.763],[78.7,0.759],[82.7,0.752],[85.6,0.741],[88,0.687],[89.6,0.470],[91.2,0.655],[92.9,0.698],[95.3,0.655],[96.9,0.330],[98.5,0.590],[101,0.655],[105,0.687],[109,0.698],[113,0.720],[117,0.731],[121,0.741],[125,0.752],[129,0.767],[133,0.796],[137,0.817],[141,0.828],[145,0.839],[149,0.850],[153,0.828],[157,0.806],[161.5,0.785],[165.5,0.767],[169.5,0.759],[173.6,0.752],[177.6,0.752],[181.7,0.759],[185.7,0.767],[189.7,0.763],[193.8,0.759],[197.8,0.752],[201.9,0.752],[205.9,0.746],[210,0.741],[214,0.741],[218,0.741],[222,0.741],[225.3,0.731],[227.8,0.546],[229.3,0.178],[230.6,-0.147],[231.8,-0.288],[233,-0.061],[234.3,0.080],[235.5,-0.104],[236.6,-0.256],[237.8,-0.061],[239,-0.104],[240.2,-0.126],[241.4,0.113],[243,0.395],[245.5,0.503],[248.3,0.568],[252.3,0.590],[256.4,0.601],[260.4,0.611],[264.4,0.622],[268.5,0.633],[272.5,0.637],[274.5,0.611],[275.7,0.286],[277,-0.147],[278.2,0.178],[279.4,0.590],[282.6,0.644],[288.6,0.659],[294.7,0.666],[298.7,0.659]];

var yTicksA = [-0.015, -0.010, -0.005, 0.000, 0.005, 0.010, 0.015, 0.020];
var yTicksB = [-0.05, -0.04, -0.03, -0.02, -0.01, 0.00, 0.01];
var yTicksC = [-4, -2, 0, 2, 4];
var yTicksD = [-0.2, 0.0, 0.2, 0.4, 0.6, 0.8];

// ---- drawing ----
var W = 624, H = 569;
var colors = ["#000000", "#1f77b4", "#ff7f0e", "#2ca02c", "#d62728", "#9467bd"];

var svg = d3.select("body").append("svg")
            .attr("width", W)
            .attr("height", H);

var panels = [
    { id: "a", box: { l: 28.3, r: 301.7, t: 7.3, b: 215 }, yDomain: [-0.0182, 0.0213],
      yTicks: yTicksA, fmt: ".3f", yLabel: "Lowerlip Translate Y", yLabelOff: 18.3,
      series: [gtA, infA1, infA2, infA3, infA4, infA5], legend: "upper",
      caption: "(a) Lower lip facial control.", capX: 164.5, capY: 264 },
    { id: "b", box: { l: 354.7, r: 627.4, t: 7.3, b: 215 }, yDomain: [-0.0562, 0.0106],
      yTicks: yTicksB, fmt: ".2f", yLabel: "Right Eyebrow Translate Y", yLabelOff: 15.7,
      series: [gtB, infB1, infB2, infB3, infB4, infB5], legend: "lower",
      caption: "(b) Eye brow facial control.", capX: 490.5, capY: 264 },
    { id: "c", box: { l: 28.3, r: 301.7, t: 306, b: 514 }, yDomain: [-4.92, 4.76],
      yTicks: yTicksC, fmt: "d", yLabel: "Left Eyeball Rotate X", yLabelOff: 10,
      series: [gtC, infC1, infC2, infC3, infC4, infC5], legend: "upper",
      caption: "(c) Eye ball rotation facial control.", capX: 164, capY: 563 },
    { id: "d", box: { l: 354.7, r: 627.4, t: 306, b: 514 }, yDomain: [-0.371, 0.984],
      yTicks: yTicksD, fmt: ".1f", yLabel: "Right Upper Lid Translate Y", yLabelOff: 12.4,
      series: [gtD, infD1, infD2, infD3, infD4, infD5], legend: "upper",
      caption: "(d) Upper lid facial control.", capX: 490.5, capY: 563 }
];

panels.forEach(function(p) {
    var bx = p.box;
    var x = d3.scaleLinear().domain([-15, 315]).range([bx.l, bx.r]);
    var y = d3.scaleLinear().domain(p.yDomain).range([bx.b, bx.t]);
    var g = svg.append("g").classed("panel tiny", true);

    g.append("clipPath").attr("id", "clip-" + p.id)
     .append("rect")
       .attr("x", bx.l).attr("y", bx.t)
       .attr("width", bx.r - bx.l).attr("height", bx.b - bx.t);

    // axes
    var xAxis = g.append("g")
       .attr("transform", "translate(0," + bx.b + ")")
       .call(d3.axisBottom(x).tickValues(xTicks).tickSize(1.4).tickPadding(1.0));
    var yAxis = g.append("g")
       .attr("transform", "translate(" + bx.l + ",0)")
       .call(d3.axisLeft(y).tickValues(p.yTicks).tickFormat(d3.format(p.fmt))
               .tickSize(1.4).tickPadding(1.2));
    [xAxis, yAxis].forEach(function(a) {
        a.attr("font-family", null).attr("font-size", null);
        a.select(".domain").remove();
        a.selectAll("line").attr("stroke", "#555").attr("stroke-width", 0.4);
        a.selectAll("text").style("font-size", "3.5px").attr("fill", "#444");
    });

    g.append("text")
       .attr("x", (bx.l + bx.r) / 2).attr("y", bx.b + 9.2)
       .attr("text-anchor", "middle").style("font-size", "3.7px").attr("fill", "#444")
       .text("Frame Index");
    g.append("text")
       .attr("transform", "translate(" + (bx.l - p.yLabelOff) + "," + ((bx.t + bx.b) / 2) + ") rotate(-90)")
       .attr("text-anchor", "middle").attr("dominant-baseline", "middle")
       .style("font-size", "3.7px").attr("fill", "#444")
       .text(p.yLabel);

    // lines
    var line = d3.line()
       .x(function(d) { return x(d[0]); })
       .y(function(d) { return y(d[1]); });
    var lines = g.append("g").attr("clip-path", "url(#clip-" + p.id + ")");
    p.series.forEach(function(s, i) {
        lines.append("path")
           .datum(s)
           .attr("d", line)
           .attr("fill", "none")
           .attr("stroke", colors[i])
           .attr("stroke-width", i === 0 ? 0.95 : 0.8)
           .attr("stroke-opacity", i === 0 ? 0.78 : 0.5)
           .attr("stroke-linejoin", "round");
    });

    // frame
    g.append("rect")
       .attr("x", bx.l).attr("y", bx.t)
       .attr("width", bx.r - bx.l).attr("height", bx.b - bx.t)
       .attr("fill", "none").attr("stroke", "#a8a8a8").attr("stroke-width", 0.9);

    // legend
    var lw = 33.3, lh = 30.6, rowH = 4.95;
    var lx = bx.r - 2.4 - lw;
    var ly = p.legend === "upper" ? bx.t + 2.7 : bx.b - 1.8 - lh;
    var leg = g.append("g").attr("transform", "translate(" + lx + "," + ly + ")");
    leg.append("rect")
       .attr("width", lw).attr("height", lh).attr("rx", 1)
       .attr("fill", "#fff").attr("fill-opacity", 0.85)
       .attr("stroke", "#d6d6d6").attr("stroke-width", 0.5);
    seriesNames.forEach(function(name, i) {
        var ry = 2.8 + i * rowH;
        leg.append("line")
           .attr("x1", 1.2).attr("x2", 9.4).attr("y1", ry).attr("y2", ry)
           .attr("stroke", colors[i])
           .attr("stroke-width", i === 0 ? 0.95 : 0.8)
           .attr("stroke-opacity", i === 0 ? 0.7 : 0.45);
        leg.append("text")
           .attr("x", 11).attr("y", ry)
           .attr("dominant-baseline", "middle")
           .style("font-size", "3.4px").attr("fill", "#333")
           .text(name);
    });

    // caption
    svg.append("text")
       .classed("caption", true)
       .attr("x", p.capX)
       .attr("y", p.capY)
       .attr("text-anchor", "middle")
       .style("font-size", "21.5px")
       .attr("fill", "#111")
       .text(p.caption);
});
</script>
</body>
</html>
